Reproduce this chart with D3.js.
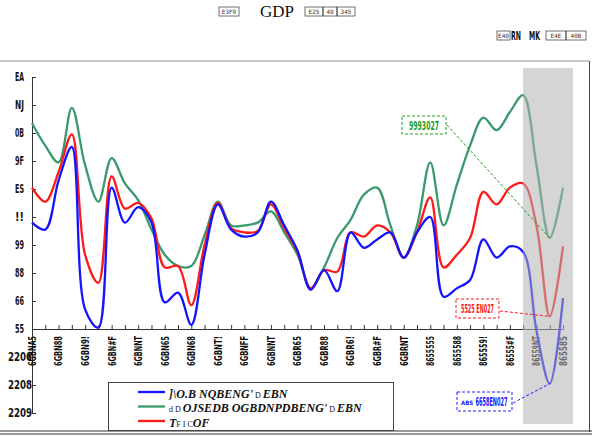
<!DOCTYPE html>
<html>
<head>
<meta charset="utf-8">
<script src="https://cdn.jsdelivr.net/npm/d3@7"></script>
<style>
  body { margin: 0; background: #fff; }
  svg { display: block; }
  .cond { font-family: 'Liberation Sans Narrow', 'DejaVu Sans Condensed', sans-serif; font-weight: bold; }
  .serif { font-family: 'Liberation Serif', 'DejaVu Serif', serif; }
</style>
</head>
<body>
<svg id="chart" width="592" height="437"></svg>
<script>
// tick labels as they appear on the picture
const xLabels = ['6GBNA5', '6GBN88', '6GBN9!', '6GBN#F', '6GBNNT', '6GBN65', '6GBN68', '6GBNT!', '6GBNFF', '6GBNNT',
    '6GBR65', '6GBR88', '6GBR6!', '6GBR#F', '6GBRNT', '8655555', '8655588', '865559!', '86555#F', '86559NT', '865585']
const yTicks = [-6, -4, -2, 0, 2, 4, 6, 8, 10, 12, 14, 16, 18]
const yTickLabels = ['2209', '2208', '2206', '55', '66', '88', '99', '!!', 'ES', '9F', '0B', 'NJ', 'EA']

// quarterly series (41 points)
const blueSeries = [7.6, 7.1, 10.6, 13.0, 1.4, 0.1, 10.1, 7.6, 8.7, 7.6, 1.9, 2.6, 0.3, 5.3, 8.9, 7.1, 6.6, 6.9, 9.1, 7.4,
    5.6, 2.8, 4.2, 2.7, 6.9, 5.8, 6.4, 6.9, 5.1, 6.9, 8.0, 2.3, 2.9, 3.5, 6.4, 5.1, 5.9, 5.5, -0.1, -3.9, 2.2]
const greenSeries = [14.7, 13.1, 11.9, 15.8, 11.7, 9.1, 12.2, 10.4, 9.2, 7.1, 5.3, 4.5, 4.5, 6.7, 9.1, 7.4, 7.4, 7.6, 8.4, 6.9,
    5.3, 2.9, 4.4, 6.5, 7.8, 9.6, 10.1, 7.4, 5.1, 7.4, 11.9, 7.4, 10.3, 13.1, 15.1, 14.2, 15.5, 16.7, 11.7, 6.5, 10.1]
const redSeries = [10.1, 9.1, 11.2, 13.9, 5.3, 3.3, 10.9, 8.6, 9.0, 7.9, 4.4, 4.5, 1.7, 6.0, 9.0, 7.2, 6.9, 7.0, 8.9, 7.2,
    5.5, 2.9, 4.2, 4.1, 6.9, 6.6, 7.4, 6.9, 5.1, 6.9, 9.4, 4.4, 5.3, 6.5, 9.8, 8.9, 10.1, 10.4, 7.4, 0.9, 5.9]

const legendNames = [
    [[']\\O.B NQBENG\'', 'b'], [' D ', 's'], ['EBN', 'b']],
    [['d', 's'], [' D ', 's'], ['OJSEDB OGBDNPDBENG\'', 'b'], [' D ', 's'], ['EBN', 'b']],
    [['T', 'b'], ['F I C', 's'], ['OF', 'b']]
]
const noteTexts = ['9993027', '5525 EN027', '6658EN027']

const colors = { blue: '#1414ff', green: '#3a9a6c', red: '#ff1a1a' }

const svg = d3.select('#chart')

const x = d3.scaleLinear().domain([0, blueSeries.length - 1]).range([32, 563])
const y = d3.scaleLinear().domain([-6, 18]).range([413, 77])

// frame
svg.append('line').attr('x1', 0).attr('x2', 589).attr('y1', 61).attr('y2', 61)
    .attr('stroke', '#c8c8c8').attr('stroke-width', 2)
svg.append('line').attr('x1', 589.5).attr('x2', 589.5).attr('y1', 61).attr('y2', 432)
    .attr('stroke', '#444')
svg.append('line').attr('x1', 0).attr('x2', 592).attr('y1', 431).attr('y2', 431).attr('stroke', '#333')
svg.append('line').attr('x1', 0).attr('x2', 592).attr('y1', 434).attr('y2', 434).attr('stroke', '#333')

// little "missing glyph" boxes
function codeBox(x0, y0, w, h, label) {
    svg.append('rect').attr('x', x0).attr('y', y0).attr('width', w).attr('height', h)
        .attr('fill', 'none').attr('stroke', '#333').attr('stroke-width', 0.7)
    svg.append('text').attr('x', x0 + w / 2).attr('y', y0 + h / 2).attr('dy', '0.35em')
        .attr('text-anchor', 'middle').attr('font-size', 6).attr('font-family', 'DejaVu Sans Mono, monospace')
        .attr('fill', '#333').text(label)
}

// squeezed text, the picture's glyphs are very narrow
function narrow(sel, len) {
    sel.attr('textLength', len).attr('lengthAdjust', 'spacingAndGlyphs')
}

// title
codeBox(219, 7, 20, 9, 'E3F9')
svg.append('text').attr('class', 'serif').attr('x', 277).attr('y', 17).attr('text-anchor', 'middle')
    .attr('font-size', 17).attr('fill', '#111').text('GDP')
codeBox(305, 7, 18, 9, 'E25')
codeBox(323, 7, 14, 9, '49')
codeBox(337, 7, 18, 9, '345')

// units line
codeBox(497, 31, 13, 9, 'E40')
narrow(svg.append('text').attr('class', 'cond').attr('x', 511).attr('y', 40).attr('font-size', 12)
    .attr('fill', '#111').text('RN'), 10)
narrow(svg.append('text').attr('class', 'cond').attr('x', 529).attr('y', 40).attr('font-size', 12)
    .attr('fill', '#111').text('MK'), 11)
codeBox(546, 31, 20, 9, 'E4E')
codeBox(566, 31, 20, 9, '40B')

// axes
const xAxis = svg.append('g').attr('transform', 'translate(0,329)')
    .call(d3.axisTop(x).tickValues(d3.range(blueSeries.length)).tickSize(4).tickSizeOuter(0).tickFormat(''))
xAxis.selectAll('path, line').attr('stroke', '#333')

const yAxis = svg.append('g').attr('transform', 'translate(32,0)')
    .call(d3.axisLeft(y).tickValues(yTicks).tickSize(-4).tickSizeOuter(0).tickPadding(8)
        .tickFormat((d, i) => yTickLabels[i]))
yAxis.selectAll('path, line').attr('stroke', '#333')
yAxis.selectAll('text').attr('class', 'cond').attr('font-size', 12).attr('fill', '#111')
    .attr('x', d => d < 0 ? 0 : -8)
    .attr('textLength', (d, i) => yTickLabels[i].length > 2 ? 24 : 9)
    .attr('lengthAdjust', 'spacingAndGlyphs')

// rotated category labels, one every second quarter
svg.append('g').selectAll('text').data(xLabels).enter().append('text')
    .attr('class', 'cond')
    .attr('transform', (d, i) => `translate(${x(i * 2)},336) rotate(-90)`)
    .attr('dy', '0.35em').attr('text-anchor', 'end').attr('font-size', 11).attr('fill', '#111')
    .attr('textLength', 30).attr('lengthAdjust', 'spacingAndGlyphs')
    .text(d => d)

// lines
const line = d3.line().x((d, i) => x(i)).y(d => y(d)).curve(d3.curveCatmullRom.alpha(0.5))
const series = [
    { values: greenSeries, color: colors.green },
    { values: redSeries, color: colors.red },
    { values: blueSeries, color: colors.blue }
]
svg.append('g').selectAll('path').data(series).enter().append('path')
    .attr('d', d => line(d.values))
    .attr('fill', 'none').attr('stroke', d => d.color).attr('stroke-width', 2.3)

// forecast shading
svg.append('rect').attr('x', 523).attr('y', 68).attr('width', 50).attr('height', 356)
    .attr('fill', '#b2b2b2').attr('opacity', 0.55)

// call-outs at the trough
const notes = [
    { values: greenSeries, color: '#1e9e1e', text: noteTexts[0], box: [402, 116, 44, 18], from: [447, 125], len: 30 },
    { values: redSeries, color: '#ff1a1a', text: noteTexts[1], box: [456, 299, 43, 19], from: [500, 311], len: 33 },
    { values: blueSeries, color: '#2020ff', text: noteTexts[2], box: [457, 392, 55, 19], from: [513, 403], len: 32, pre: 'ABS' }
]
const trough = 39
notes.forEach(n => {
    const [bx, by, bw, bh] = n.box
    svg.append('line').attr('x1', n.from[0]).attr('y1', n.from[1])
        .attr('x2', x(trough)).attr('y2', y(n.values[trough]))
        .attr('stroke', n.color).attr('stroke-width', 1).attr('stroke-dasharray', '3,2')
    svg.append('rect').attr('x', bx).attr('y', by).attr('width', bw).attr('height', bh)
        .attr('fill', '#fff').attr('stroke', n.color).attr('stroke-width', 1).attr('stroke-dasharray', '3,2')
    let tx = bx + bw / 2
    if (n.pre) {
        svg.append('text').attr('class', 'cond').attr('x', bx + 4).attr('y', by + bh / 2 + 1).attr('dy', '0.35em')
            .attr('font-size', 6).attr('fill', n.color).text(n.pre)
        tx = bx + bw / 2 + 7
    }
    narrow(svg.append('text').attr('class', 'cond').attr('x', tx).attr('y', by + bh / 2)
        .attr('dy', '0.35em').attr('text-anchor', 'middle').attr('font-size', 13).attr('fill', n.color)
        .text(n.text), n.len)
})

// legend
svg.append('rect').attr('x', 108.5).attr('y', 382.5).attr('width', 285).attr('height', 48)
    .attr('fill', '#fff').attr('stroke', '#444')
const legendRows = [colors.blue, colors.green, colors.red]
legendRows.forEach((c, i) => {
    const ly = 392 + i * 14.5
    svg.append('line').attr('x1', 138).attr('x2', 165).attr('y1', ly).attr('y2', ly)
        .attr('stroke', c).attr('stroke-width', 2.3)
    const t = svg.append('text').attr('class', 'serif').attr('x', 169).attr('y', ly).attr('dy', '0.35em')
        .attr('fill', '#111')
    legendNames[i].forEach(([str, kind]) => {
        const sp = t.append('tspan').text(str)
        if (kind === 'b') sp.attr('font-size', 12).attr('font-weight', 'bold').attr('font-style', 'italic')
        else sp.attr('font-size', 8)
    })
})
</script>
</body>
</html>
